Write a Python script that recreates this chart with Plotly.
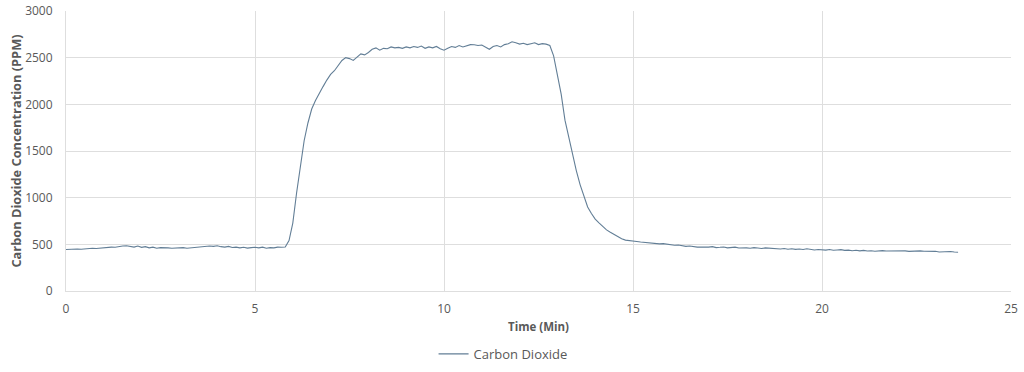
import plotly.graph_objects as go

# sampling times (minutes), one reading every 0.1 min
time_min = [round(i * 0.1, 1) for i in range(237)]

co2_ppm = [
    445, 448, 446, 450, 447, 452, 455, 458, 455, 460,
    462, 465, 470, 468, 478, 482, 485, 478, 470, 482,
    468, 475, 462, 470, 458, 465, 460, 462, 458, 463,
    460, 465, 458, 462, 468, 472, 480, 485, 482, 478,
    484, 475, 470, 478, 466, 470, 462, 468, 460, 465,
    468, 462, 470, 458, 465, 462, 470, 468, 472, 540,
    728, 1050, 1360, 1610, 1800, 1950, 2040, 2120, 2190, 2260,
    2320, 2360, 2420, 2470, 2500, 2490, 2470, 2510, 2540, 2530,
    2555, 2590, 2605, 2580, 2600, 2595, 2615, 2605, 2610, 2600,
    2615, 2605, 2620, 2610, 2625, 2600, 2615, 2605, 2620, 2595,
    2580, 2600, 2620, 2610, 2630, 2615, 2625, 2640, 2638, 2630,
    2635, 2610, 2590, 2620, 2630, 2615, 2640, 2650, 2670, 2660,
    2645, 2655, 2640, 2650, 2660, 2640, 2650, 2645, 2630, 2520,
    2300, 2110, 1830, 1640, 1450, 1290, 1140, 1020, 900, 830,
    770, 730, 690, 655, 630, 605, 580, 560, 545, 538,
    535, 530, 525, 520, 522, 515, 510, 505, 508, 500,
    495, 490, 492, 485, 478, 482, 475, 470, 472, 468,
    470, 475, 465, 468, 472, 462, 468, 470, 460, 465,
    462, 458, 465, 460, 455, 462, 458, 452, 456, 450,
    455, 448, 452, 446, 450, 445, 452, 448, 440, 445,
    442, 438, 445, 436, 440, 443, 435, 438, 432, 436,
    430, 435, 428, 432, 426, 430, 433, 428, 430, 432,
    428, 432, 430, 425, 428, 432, 430, 426, 428, 422,
    425, 418, 422, 420, 424, 418, 415,
]

series_name = "Carbon Dioxide"
x_title = "Time (Min)"
y_title = "Carbon Dioxide Concentration (PPM)"
x_ticks = [0, 5, 10, 15, 20, 25]
y_ticks = [0, 500, 1000, 1500, 2000, 2500, 3000]

text_color = "#595959"
grid_color = "#dedede"
font_family = "Open Sans, Liberation Sans, sans-serif"

fig = go.Figure()
fig.add_trace(go.Scatter(
    x=time_min, y=co2_ppm, mode="lines", name=series_name,
    line=dict(color="#627e96", width=1.1),
))

fig.update_layout(
    width=1024, height=372,
    margin=dict(l=66, r=13, t=11, b=81, autoexpand=False),
    paper_bgcolor="white", plot_bgcolor="white",
    font=dict(family=font_family, size=12, color=text_color),
    showlegend=True,
    legend=dict(orientation="h", x=0.4625, xanchor="center", y=-0.171, yanchor="top",
                font=dict(size=13, color=text_color)),
    xaxis=dict(
        range=[0, 25], tickvals=x_ticks, showgrid=True, gridcolor=grid_color,
        gridwidth=1, zeroline=False, showline=True, linecolor=grid_color,
        ticks="", tickfont=dict(size=12, color=text_color), ticklabelstandoff=7,
        automargin=False, ticklabeloverflow="allow",
        title=dict(text="<b>" + x_title + "</b>", standoff=6,
                   font=dict(size=11.5, color=text_color)),
    ),
    yaxis=dict(
        range=[0, 3000], tickvals=y_ticks, showgrid=True, gridcolor=grid_color,
        gridwidth=1, zeroline=False, showline=True, linecolor=grid_color,
        ticks="", tickfont=dict(size=12, color=text_color), ticklabelstandoff=10,
        automargin=False, ticklabeloverflow="allow",
        title=dict(text="<b>" + y_title + "</b>", standoff=0,
                   font=dict(size=12.8, color=text_color)),
    ),
)

# remove the page's default 8px body margin so the figure fills the window
fig.write_html("out.html", config={"displayModeBar": False},
               post_script="document.body.style.margin='0';")
